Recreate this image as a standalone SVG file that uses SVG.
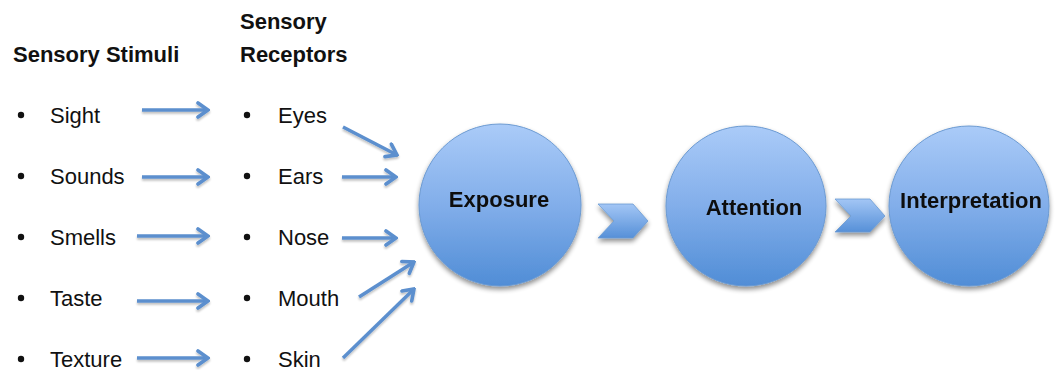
<svg xmlns="http://www.w3.org/2000/svg" width="1055" height="370" viewBox="0 0 1055 370">
  <defs>
    <linearGradient id="ballFill" x1="0" y1="0" x2="0" y2="1">
      <stop offset="0" stop-color="#aacbf8"/>
      <stop offset="0.5" stop-color="#82aeea"/>
      <stop offset="1" stop-color="#508dd6"/>
    </linearGradient>
    <linearGradient id="chevFill" x1="0" y1="0" x2="0" y2="1">
      <stop offset="0" stop-color="#a3c6f5"/>
      <stop offset="1" stop-color="#5690d8"/>
    </linearGradient>
    <filter id="shade" x="-20%" y="-20%" width="140%" height="150%">
      <feGaussianBlur in="SourceAlpha" stdDeviation="2.5"/>
      <feOffset dx="0" dy="3" result="blur"/>
      <feComponentTransfer><feFuncA type="linear" slope="0.45"/></feComponentTransfer>
      <feMerge><feMergeNode/><feMergeNode in="SourceGraphic"/></feMerge>
    </filter>
    <filter id="lineShade" x="-20%" y="-50%" width="140%" height="200%">
      <feGaussianBlur in="SourceAlpha" stdDeviation="1.2"/>
      <feOffset dx="0" dy="2"/>
      <feComponentTransfer><feFuncA type="linear" slope="0.25"/></feComponentTransfer>
      <feMerge><feMergeNode/><feMergeNode in="SourceGraphic"/></feMerge>
    </filter>
    <marker id="head" viewBox="-14 -9 16 18" refX="0" refY="0" markerWidth="16" markerHeight="18" markerUnits="userSpaceOnUse" orient="auto">
      <path d="M-10,-7 L0,0 L-10,7" fill="none" stroke="#5b8fce" stroke-width="3.6" stroke-linecap="round" stroke-linejoin="miter"/>
    </marker>
  </defs>
  <style>
    .hdr { font-family: "Liberation Sans", Arial, sans-serif; font-weight: bold; font-size: 22px; fill: #111; }
    .item { font-family: "Liberation Sans", Arial, sans-serif; font-size: 22px; fill: #111; }
    .lbl { font-family: "Liberation Sans", Arial, sans-serif; font-weight: bold; font-size: 22px; fill: #111; text-anchor: middle; }
    .bul { fill: #111; }
    .arr { stroke: #5b8fce; stroke-width: 3.4; fill: none; marker-end: url(#head); }
    .ball { fill: url(#ballFill); stroke: #6b9ad2; stroke-width: 1; }
    .chev { fill: url(#chevFill); stroke: #6b9ad2; stroke-width: 0.8; }
  </style>

  <rect width="1055" height="370" fill="#ffffff"/>

  <!-- column headings -->
  <g id="heading-stimuli">
    <text class="hdr" x="13" y="62">Sensory Stimuli</text>
  </g>
  <g id="heading-receptors">
    <text class="hdr" x="240" y="29">Sensory</text>
    <text class="hdr" x="240" y="62">Receptors</text>
  </g>

  <!-- stimuli list -->
  <g id="stimuli">
    <circle class="bul" cx="21" cy="115" r="3.2"/><text class="item" x="50" y="123">Sight</text>
    <circle class="bul" cx="21" cy="176" r="3.2"/><text class="item" x="50" y="184">Sounds</text>
    <circle class="bul" cx="21" cy="237" r="3.2"/><text class="item" x="50" y="245">Smells</text>
    <circle class="bul" cx="21" cy="298" r="3.2"/><text class="item" x="50" y="306">Taste</text>
    <circle class="bul" cx="21" cy="359" r="3.2"/><text class="item" x="50" y="367">Texture</text>
  </g>

  <!-- receptors list -->
  <g id="receptors">
    <circle class="bul" cx="247" cy="115" r="3.2"/><text class="item" x="278" y="123">Eyes</text>
    <circle class="bul" cx="247" cy="176" r="3.2"/><text class="item" x="278" y="184">Ears</text>
    <circle class="bul" cx="247" cy="237" r="3.2"/><text class="item" x="278" y="245">Nose</text>
    <circle class="bul" cx="247" cy="298" r="3.2"/><text class="item" x="278" y="306">Mouth</text>
    <circle class="bul" cx="247" cy="359" r="3.2"/><text class="item" x="278" y="367">Skin</text>
  </g>

  <!-- process stages -->
  <g id="exposure" filter="url(#shade)">
    <circle class="ball" cx="500" cy="205" r="81"/>
    <text class="lbl" x="499" y="207">Exposure</text>
  </g>
  <g id="attention" filter="url(#shade)">
    <circle class="ball" cx="746" cy="206" r="80"/>
    <text class="lbl" x="754" y="215">Attention</text>
  </g>
  <g id="interpretation" filter="url(#shade)">
    <circle class="ball" cx="969" cy="206" r="80"/>
    <text class="lbl" x="971" y="208">Interpretation</text>
  </g>

  <!-- connectors -->
  <g id="connectors">
    <g filter="url(#lineShade)">
      <line class="arr" x1="142" y1="110" x2="208" y2="110"/>
      <line class="arr" x1="142" y1="177" x2="208" y2="177"/>
      <line class="arr" x1="137" y1="236" x2="208" y2="236"/>
      <line class="arr" x1="137" y1="301" x2="208" y2="301"/>
      <line class="arr" x1="137" y1="358" x2="208" y2="358"/>

      <line class="arr" x1="343" y1="127" x2="397" y2="155"/>
      <line class="arr" x1="342" y1="177" x2="396" y2="177"/>
      <line class="arr" x1="342" y1="238" x2="396" y2="238"/>
      <line class="arr" x1="359" y1="297" x2="414" y2="262"/>
      <line class="arr" x1="343" y1="358" x2="414" y2="289"/>
    </g>
    <g filter="url(#shade)">
      <polygon class="chev" points="598,204 633,204 648,221 633,238 598,238 614,221"/>
      <polygon class="chev" points="835,199 870,199 885,216 870,232 835,232 851,216"/>
    </g>
  </g>
</svg>
